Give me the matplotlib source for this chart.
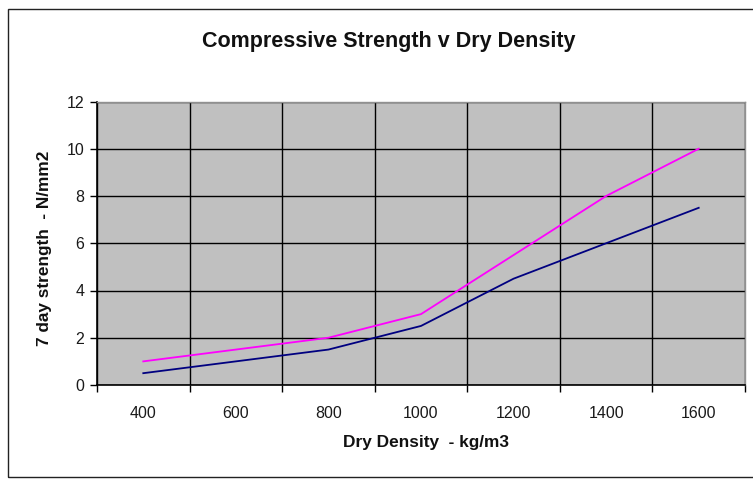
import matplotlib
matplotlib.use("Agg")
import matplotlib.pyplot as plt
from matplotlib.patches import Rectangle
import numpy as np

plt.rcParams['font.family'] = ['Liberation Sans', 'DejaVu Sans']

categories = ["400", "600", "800", "1000", "1200", "1400", "1600"]
series_pink = [1.0, 1.5, 2.0, 3.0, 5.5, 8.0, 10.0]
series_blue = [0.5, 1.0, 1.5, 2.5, 4.5, 6.0, 7.5]
y_ticks = [0, 2, 4, 6, 8, 10, 12]

W, H = 753, 479
fig = plt.figure(figsize=(W / 100, H / 100), dpi=100)
fig.patch.set_facecolor("white")

# outer chart frame
fig.patches.append(Rectangle((8 / W, 2 / H), 1.0, 468 / H, transform=fig.transFigure,
                             fill=False, edgecolor="#222222", linewidth=1.0))

ax = fig.add_axes([97 / W, (H - 385) / H, 648 / W, 283.5 / H])
ax.set_facecolor("#C0C0C0")

x = np.arange(len(categories))
ax.plot(x, series_pink, color="#FF00FF", linewidth=1.3, zorder=3)
ax.plot(x, series_blue, color="#000080", linewidth=1.3, zorder=3)

ax.set_xlim(-0.5, len(categories) - 0.5)
ax.set_ylim(0, 12)
ax.set_yticks(y_ticks)
ax.set_yticklabels([str(v) for v in y_ticks])
ax.set_xticks(x)
ax.set_xticklabels(categories)
ax.set_xticks(np.arange(-0.5, len(categories), 1.0), minor=True)

ax.tick_params(axis="x", which="major", length=0, pad=15, labelsize=11.5, labelcolor="#1a1a1a")
ax.tick_params(axis="x", which="minor", length=5, direction="out", width=1, color="black")
ax.tick_params(axis="y", which="major", length=5, direction="out", width=1, labelsize=11.5,
               pad=4, labelcolor="#1a1a1a")

ax.grid(True, axis="y", which="major", color="black", linewidth=1.0)
ax.grid(True, axis="x", which="minor", color="black", linewidth=1.0)
ax.set_axisbelow(True)

for s in ["left", "bottom"]:
    ax.spines[s].set_color("black")
    ax.spines[s].set_linewidth(1.2)
for s in ["top", "right"]:
    ax.spines[s].set_color("#909090")
    ax.spines[s].set_linewidth(1.0)

fig.text(426 / W, 1 - 442 / H, "Dry Density  - kg/m3", ha="center", va="center",
         fontsize=12.4, fontweight="bold", color="#111111")
fig.text(45 / W, 1 - 248 / H, "7 day strength  - N/mm2", ha="center", va="center",
         rotation=90, fontsize=12.4, fontweight="bold", color="#111111")

fig.text(389 / W, 1 - 42 / H, "Compressive Strength v Dry Density", ha="center", va="center",
         fontsize=15.5, fontweight="bold", color="#111111")

fig.savefig("out.png", dpi=100)
